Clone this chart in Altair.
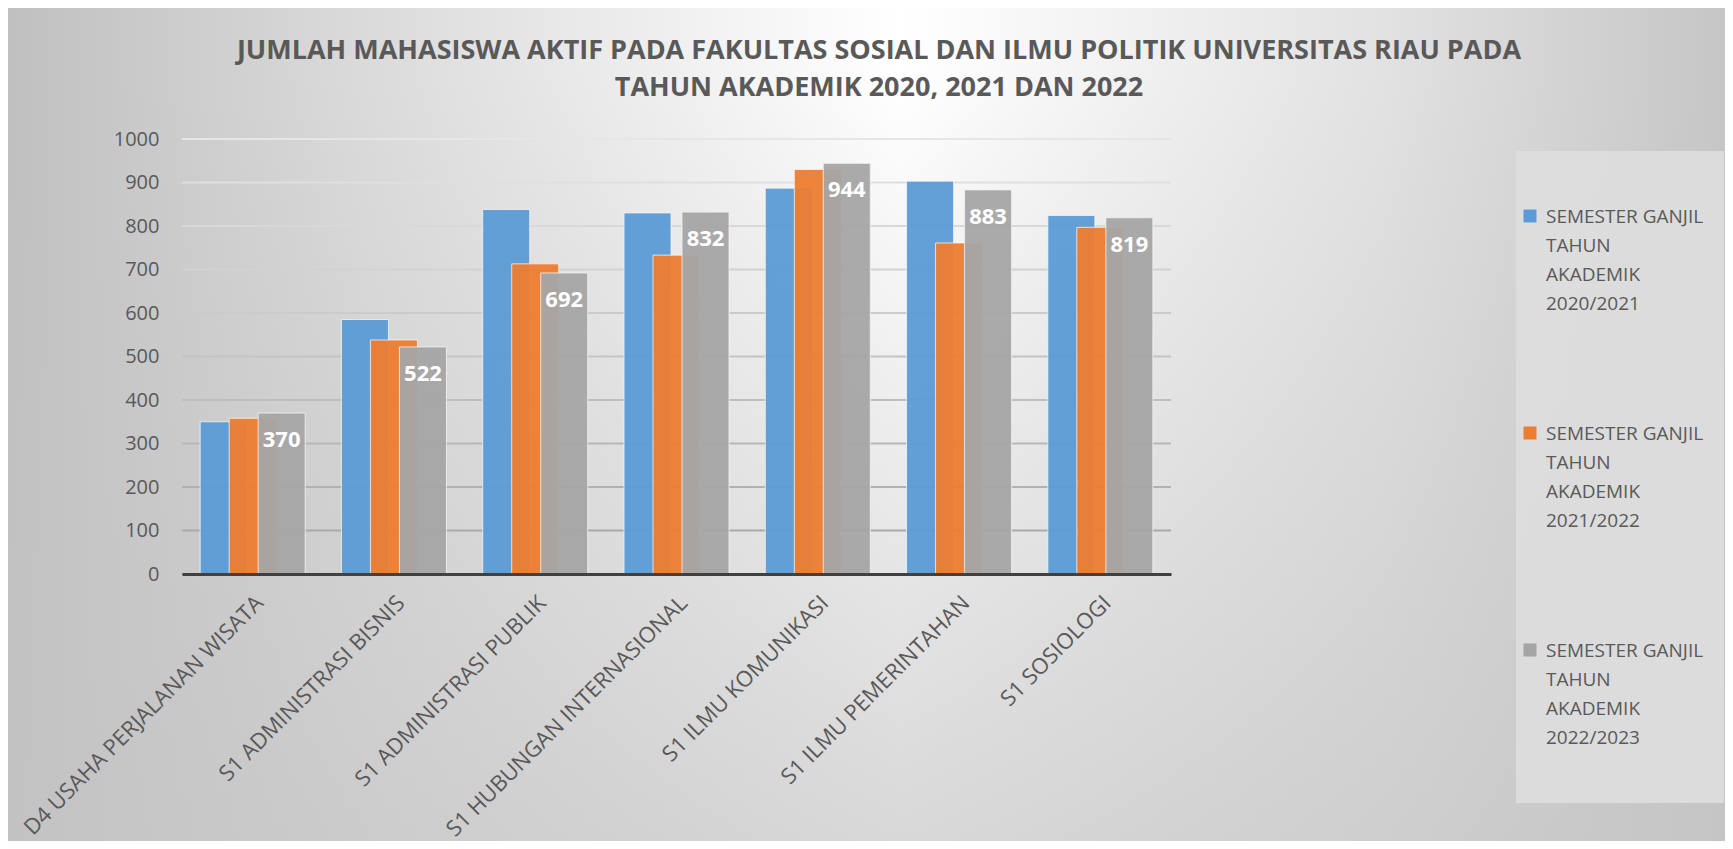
import altair as alt
import pandas as pd

categories = [
    "D4 USAHA PERJALANAN WISATA",
    "S1 ADMINISTRASI BISNIS",
    "S1 ADMINISTRASI PUBLIK",
    "S1 HUBUNGAN INTERNASIONAL",
    "S1 ILMU KOMUNIKASI",
    "S1 ILMU PEMERINTAHAN",
    "S1 SOSIOLOGI",
]
series = [
    "SEMESTER GANJIL TAHUN AKADEMIK 2020/2021",
    "SEMESTER GANJIL TAHUN AKADEMIK 2021/2022",
    "SEMESTER GANJIL TAHUN AKADEMIK 2022/2023",
]
values_2020 = [350, 585, 838, 830, 887, 903, 824]
values_2021 = [358, 538, 713, 733, 930, 761, 797]
values_2022 = [370, 522, 692, 832, 944, 883, 819]
colors = ["#5B9BD5", "#ED7D31", "#A5A5A5"]
y_ticks = [0, 100, 200, 300, 400, 500, 600, 700, 800, 900, 1000]
title_lines = [
    "JUMLAH MAHASISWA AKTIF PADA FAKULTAS SOSIAL DAN ILMU POLITIK UNIVERSITAS RIAU PADA",
    "TAHUN AKADEMIK 2020, 2021 DAN 2022",
]

rows = []
for s, vals in zip(series, [values_2020, values_2021, values_2022]):
    for c, v in zip(categories, vals):
        rows.append({"program": c, "series": s, "value": v})
df = pd.DataFrame(rows)
ticks_df = pd.DataFrame({"tick": y_ticks})
legend_df = pd.DataFrame({"series": series})
title_data = alt.Data(values=[{"title": title_lines}])

W, H = 989, 435
PL, PT, PR, PB = 174, 131, 554, 267
BAND = W / len(categories)
BAR_W = 47
STEP = 29
TEXT = "#595959"

x_enc = alt.X(
    "program:N",
    sort=categories,
    scale=alt.Scale(paddingInner=0, paddingOuter=0),
    axis=alt.Axis(
        title=None, labelAngle=-45, labelFontSize=22, labelFont="Open Sans",
        labelColor=TEXT, ticks=False, domainColor="#404040", domainWidth=3,
        labelPadding=18, labelLimit=500, grid=False, zindex=1,
    ),
)
y_axis = alt.Axis(
    title=None, values=y_ticks, format="d", grid=False, domain=False, ticks=False,
    labelFontSize=20, labelFont="Open Sans", labelColor=TEXT, labelPadding=23,
    zindex=1,
)
y_enc = alt.Y("value:Q", scale=alt.Scale(domain=[0, 1000], nice=False), axis=y_axis)
color_enc = alt.Color("series:N", scale=alt.Scale(domain=series, range=colors), legend=None)

one = alt.Data(values=[{"k": 1}])

bg_h = alt.Chart(one).mark_rect(
    fill=alt.LinearGradient(
        gradient="linear", x1=0, y1=0, x2=1, y2=0,
        stops=[
            alt.GradientStop(offset=0, color="#c0c0c0"),
            alt.GradientStop(offset=0.22, color="#dcdcdc"),
            alt.GradientStop(offset=0.52, color="#ffffff"),
            alt.GradientStop(offset=0.8, color="#e2e2e2"),
            alt.GradientStop(offset=1, color="#c6c6c6"),
        ],
    )
).encode(x=alt.value(-PL), x2=alt.value(W + PR), y=alt.value(-PT), y2=alt.value(H + PB))

bg_v = alt.Chart(one).mark_rect(
    fill=alt.LinearGradient(
        gradient="linear", x1=0, y1=0, x2=0, y2=1,
        stops=[
            alt.GradientStop(offset=0, color="rgba(196,196,196,0)"),
            alt.GradientStop(offset=0.08, color="rgba(196,196,196,0)"),
            alt.GradientStop(offset=1, color="rgba(196,196,196,0.66)"),
        ],
    )
).encode(x=alt.value(-PL), x2=alt.value(W + PR), y=alt.value(-PT), y2=alt.value(H + PB))

legend_box = alt.Chart(one).mark_rect(fill="#dedede", opacity=0.9).encode(
    x=alt.value(1334), x2=alt.value(1542), y=alt.value(12), y2=alt.value(664)
)

grid = alt.Chart(ticks_df).mark_rule(strokeWidth=2).encode(
    y=alt.Y("tick:Q", scale=alt.Scale(domain=[0, 1000], nice=False), axis=y_axis),
    stroke=alt.Stroke("tick:Q", scale=alt.Scale(domain=[0, 1000], range=["#a4a4a4", "#e6e6e6"]), legend=None),
)

base = alt.Chart(df)
bars = []
for i, s in enumerate(series):
    bars.append(
        base.transform_filter(alt.datum.series == s)
        .mark_bar(width=BAR_W, stroke="#f4f4f4", strokeWidth=1, strokeOpacity=0.8, fillOpacity=0.95)
        .encode(x=x_enc, y=y_enc, color=color_enc, xOffset=alt.value(BAND / 2 + (i - 1) * STEP))
    )

labels = (
    base.transform_filter(alt.datum.series == series[2])
    .mark_text(color="white", fontWeight="bold", fontSize=22, font="Open Sans", baseline="middle", dy=27)
    .encode(x=x_enc, y=y_enc, text=alt.Text("value:Q"), xOffset=alt.value(BAND / 2 + STEP))
)

legend_offset = alt.YOffset(
    "series:N", sort=series, scale=alt.Scale(domain=series, type="point", range=[0, 434], padding=0)
)
legend_sym = alt.Chart(legend_df).mark_square(size=169, opacity=1).encode(
    x=alt.value(1348), y=alt.value(77), yOffset=legend_offset, color=color_enc
)
legend_txt = (
    alt.Chart(legend_df)
    .transform_calculate(
        lines="[split(datum.series,' ')[0] + ' ' + split(datum.series,' ')[1], split(datum.series,' ')[2], split(datum.series,' ')[3], split(datum.series,' ')[4]]"
    )
    .mark_text(align="left", baseline="top", fontSize=19, font="Open Sans", color=TEXT, lineHeight=29, dy=-8)
    .encode(x=alt.value(1364), y=alt.value(77), yOffset=legend_offset, text=alt.Text("lines:N"))
)

title_mark = alt.Chart(title_data).mark_text(
    align="center", baseline="middle", fontSize=27, font="Open Sans",
    fontWeight="bold", color=TEXT, lineHeight=37,
).encode(x=alt.value(697), y=alt.value(-88), text=alt.Text("title:N"))

chart = alt.layer(
    bg_h, bg_v, legend_box, grid, *bars, labels, legend_sym, legend_txt, title_mark
).properties(
    width=W,
    height=H,
    padding={"left": PL, "top": PT, "right": PR, "bottom": PB},
    autosize=alt.AutoSizeParams(type="none"),
).configure_view(stroke=None).configure(background="white")

chart.save("out.html", embed_options={"renderer": "svg", "actions": False})
